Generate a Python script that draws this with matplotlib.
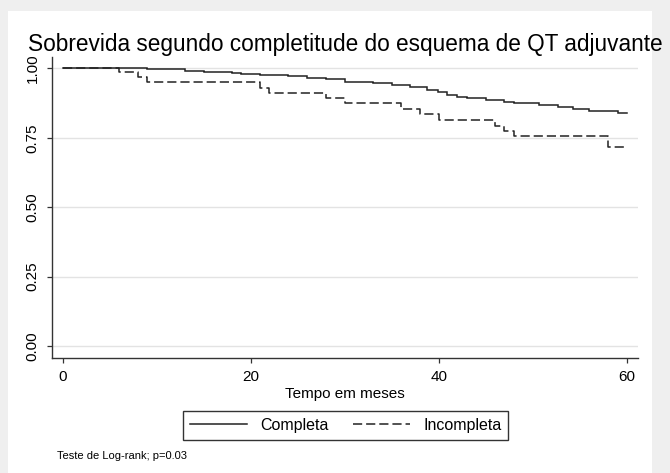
import matplotlib
matplotlib.use("Agg")
import matplotlib.pyplot as plt
from matplotlib.patches import Rectangle
from matplotlib.lines import Line2D

# ---- data ----
times_completa = [0, 9, 13, 15, 18, 19, 21, 24, 26, 28, 30, 33, 35, 37, 38.8, 39.9,
                  40.9, 42, 43, 45, 47, 48, 50.7, 52.7, 54.3, 56, 59.1, 60]
surv_completa = [1.000, 0.996, 0.991, 0.988, 0.983, 0.979, 0.975, 0.971, 0.966, 0.960,
                 0.952, 0.946, 0.939, 0.932, 0.922, 0.914, 0.905, 0.898, 0.893, 0.886,
                 0.879, 0.874, 0.867, 0.861, 0.855, 0.847, 0.839, 0.839]

times_incompleta = [0, 6, 8, 9, 21, 22, 28, 30, 36, 38, 40, 46, 47, 48, 58, 60]
surv_incompleta = [1.000, 0.986, 0.968, 0.950, 0.928, 0.912, 0.894, 0.874, 0.853,
                   0.834, 0.814, 0.793, 0.774, 0.756, 0.716, 0.716]

group_labels = ["Completa", "Incompleta"]
x_ticks = [0, 20, 40, 60]
y_ticks = [0.00, 0.25, 0.50, 0.75, 1.00]
title = "Sobrevida segundo completitude do esquema de QT adjuvante"
x_label = "Tempo em meses"
note = "Teste de Log-rank; p=0.03"

plt.rcParams['font.family'] = ['Liberation Sans', 'DejaVu Sans']

W, H = 670, 473
fig = plt.figure(figsize=(W / 100, H / 100), dpi=100)
fig.patch.set_facecolor('#efefef')
fig.add_artist(Rectangle((8 / W, 0), (652 - 8) / W, 1 - 11 / H,
                         transform=fig.transFigure, facecolor='white',
                         edgecolor='none', zorder=0))

ax = fig.add_axes([52 / W, 1 - 358 / H, (638 - 52) / W, (358 - 57) / H])
ax.set_facecolor('none')

line_color = '#222222'
ax.step(times_completa, surv_completa, where='post', color=line_color, lw=1.1,
        solid_joinstyle='miter', zorder=3)
ax.step(times_incompleta, surv_incompleta, where='post', color=line_color, lw=1.1,
        dashes=(6, 2.6), zorder=3)

ax.set_xlim(-1.12, 61.2)
ax.set_ylim(-0.043, 1.041)
ax.set_xticks(x_ticks)
ax.set_yticks(y_ticks)
ax.set_yticklabels([f"{v:.2f}" for v in y_ticks], rotation=90, va='center')
ax.grid(axis='y', color='#e3e3e3', lw=1.0, zorder=1)
ax.set_axisbelow(True)

for s in ['top', 'right']:
    ax.spines[s].set_visible(False)
for s in ['left', 'bottom']:
    ax.spines[s].set_color('#333333')
    ax.spines[s].set_linewidth(1.0)

ax.tick_params(axis='both', length=3.8, width=0.9, color='#333333',
               labelsize=11, labelcolor='black')
ax.tick_params(axis='x', pad=5)
ax.tick_params(axis='y', pad=5)

ax.set_xlabel(x_label, fontsize=11, labelpad=2)
ax.set_title(title, fontsize=16.3, pad=4.5)

handles = [Line2D([], [], color=line_color, lw=1.1),
           Line2D([], [], color=line_color, lw=1.1, dashes=(6, 2.6))]
leg = fig.legend(handles, group_labels, loc='center',
                 bbox_to_anchor=(345.5 / W, 1 - 425.5 / H), ncol=2,
                 fontsize=11.5, frameon=True, fancybox=False, edgecolor='black',
                 handlelength=3.6, handletextpad=0.8, columnspacing=1.55,
                 borderpad=0.42, borderaxespad=0)
leg.get_frame().set_linewidth(1.0)

fig.text(57 / W, 1 - 456 / H, note, fontsize=8, va='center', ha='left')

fig.savefig('out.png', dpi=100, facecolor=fig.get_facecolor())
